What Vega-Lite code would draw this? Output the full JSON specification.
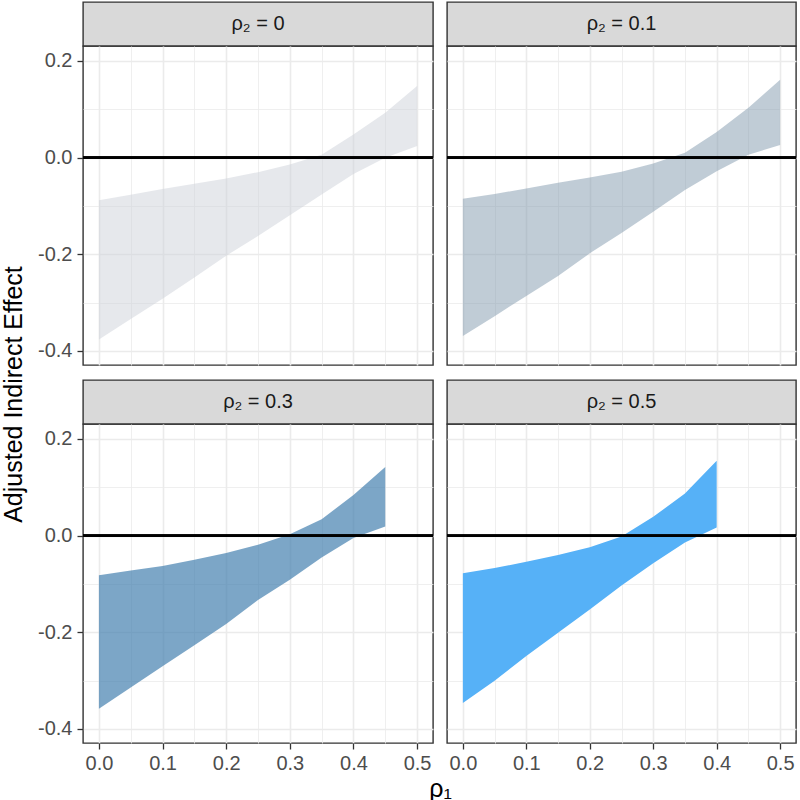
{
  "$schema": "https://vega.github.io/schema/vega-lite/v6.json",
  "padding": {"left": 0, "top": 1, "right": 3, "bottom": 0},
  "background": "white",
  "config": {
    "font": "Liberation Sans",
    "view": {"stroke": "#333333", "strokeWidth": 1.4},
    "axis": {
      "labelColor": "#4D4D4D",
      "labelFontSize": 20,
      "labelFont": "Liberation Sans",
      "titleFont": "Liberation Sans",
      "titleFontSize": 25,
      "titleFontWeight": "normal",
      "titleColor": "#000000",
      "tickColor": "#333333",
      "tickWidth": 1.3,
      "tickSize": 6,
      "domain": false,
      "gridColor": "#EBEBEB"
    }
  },
  "datasets": {
    "bands": [
      {"rho2": 0, "rho1": 0.0, "lower": -0.376, "upper": -0.088},
      {"rho2": 0, "rho1": 0.05, "lower": -0.334, "upper": -0.077},
      {"rho2": 0, "rho1": 0.1, "lower": -0.292, "upper": -0.065},
      {"rho2": 0, "rho1": 0.15, "lower": -0.248, "upper": -0.054},
      {"rho2": 0, "rho1": 0.2, "lower": -0.203, "upper": -0.043},
      {"rho2": 0, "rho1": 0.25, "lower": -0.162, "upper": -0.030},
      {"rho2": 0, "rho1": 0.3, "lower": -0.119, "upper": -0.014},
      {"rho2": 0, "rho1": 0.35, "lower": -0.076, "upper": 0.006},
      {"rho2": 0, "rho1": 0.4, "lower": -0.034, "upper": 0.048},
      {"rho2": 0, "rho1": 0.45, "lower": 0.0, "upper": 0.093},
      {"rho2": 0, "rho1": 0.5, "lower": 0.024, "upper": 0.148},
      {"rho2": 0.1, "rho1": 0.0, "lower": -0.369, "upper": -0.085},
      {"rho2": 0.1, "rho1": 0.05, "lower": -0.328, "upper": -0.075},
      {"rho2": 0.1, "rho1": 0.1, "lower": -0.286, "upper": -0.064},
      {"rho2": 0.1, "rho1": 0.15, "lower": -0.245, "upper": -0.052},
      {"rho2": 0.1, "rho1": 0.2, "lower": -0.198, "upper": -0.041},
      {"rho2": 0.1, "rho1": 0.25, "lower": -0.156, "upper": -0.029},
      {"rho2": 0.1, "rho1": 0.3, "lower": -0.112, "upper": -0.012},
      {"rho2": 0.1, "rho1": 0.35, "lower": -0.067, "upper": 0.010},
      {"rho2": 0.1, "rho1": 0.4, "lower": -0.028, "upper": 0.053},
      {"rho2": 0.1, "rho1": 0.45, "lower": 0.006, "upper": 0.103},
      {"rho2": 0.1, "rho1": 0.5, "lower": 0.026, "upper": 0.161},
      {"rho2": 0.3, "rho1": 0.0, "lower": -0.358, "upper": -0.082},
      {"rho2": 0.3, "rho1": 0.05, "lower": -0.314, "upper": -0.072},
      {"rho2": 0.3, "rho1": 0.1, "lower": -0.270, "upper": -0.063},
      {"rho2": 0.3, "rho1": 0.15, "lower": -0.227, "upper": -0.050},
      {"rho2": 0.3, "rho1": 0.2, "lower": -0.183, "upper": -0.036},
      {"rho2": 0.3, "rho1": 0.25, "lower": -0.133, "upper": -0.019},
      {"rho2": 0.3, "rho1": 0.3, "lower": -0.091, "upper": 0.003},
      {"rho2": 0.3, "rho1": 0.35, "lower": -0.045, "upper": 0.034},
      {"rho2": 0.3, "rho1": 0.4, "lower": -0.005, "upper": 0.084},
      {"rho2": 0.3, "rho1": 0.45, "lower": 0.019, "upper": 0.142},
      {"rho2": 0.5, "rho1": 0.0, "lower": -0.346, "upper": -0.078},
      {"rho2": 0.5, "rho1": 0.05, "lower": -0.300, "upper": -0.067},
      {"rho2": 0.5, "rho1": 0.1, "lower": -0.249, "upper": -0.054},
      {"rho2": 0.5, "rho1": 0.15, "lower": -0.201, "upper": -0.040},
      {"rho2": 0.5, "rho1": 0.2, "lower": -0.153, "upper": -0.024},
      {"rho2": 0.5, "rho1": 0.25, "lower": -0.103, "upper": -0.002},
      {"rho2": 0.5, "rho1": 0.3, "lower": -0.057, "upper": 0.039},
      {"rho2": 0.5, "rho1": 0.35, "lower": -0.014, "upper": 0.087},
      {"rho2": 0.5, "rho1": 0.4, "lower": 0.017, "upper": 0.155}
    ],
    "strips": [
      {"rho2": 0, "label": "ρ₂ = 0"},
      {"rho2": 0.1, "label": "ρ₂ = 0.1"},
      {"rho2": 0.3, "label": "ρ₂ = 0.3"},
      {"rho2": 0.5, "label": "ρ₂ = 0.5"}
    ]
  },
  "bounds": "flush",
  "columns": 2,
  "spacing": {"row": 0, "column": 14},
  "concat": [
    {
      "width": 350, "height": 44,
      "data": {"name": "strips"},
      "transform": [{"filter": "datum.rho2 == 0"}],
      "view": {"fill": "#D9D9D9", "stroke": "#333333", "strokeWidth": 1.4},
      "mark": {"type": "text", "fontSize": 20, "color": "#1A1A1A", "baseline": "middle", "align": "center"},
      "encoding": {"text": {"field": "label"}}
    },
    {
      "width": 349, "height": 44,
      "data": {"name": "strips"},
      "transform": [{"filter": "datum.rho2 == 0.1"}],
      "view": {"fill": "#D9D9D9", "stroke": "#333333", "strokeWidth": 1.4},
      "mark": {"type": "text", "fontSize": 20, "color": "#1A1A1A", "baseline": "middle", "align": "center"},
      "encoding": {"text": {"field": "label"}}
    },
    {
      "width": 350, "height": 319,
      "data": {"name": "bands"},
      "transform": [{"filter": "datum.rho2 == 0"}],
      "layer": [
        {
          "mark": {"type": "area", "color": "#CDD1D9", "opacity": 0.5},
          "encoding": {
            "x": {"field": "rho1", "type": "quantitative", "scale": {"domain": [-0.025, 0.525], "nice": false, "zero": false},
              "axis": {"values": [0, 0.05, 0.1, 0.15, 0.2, 0.25, 0.3, 0.35, 0.4, 0.45, 0.5], "labels": false, "ticks": false, "title": null,
                "gridWidth": {"condition": {"test": "round(datum.value*20) % 2 === 0", "value": 1.6}, "value": 0.8}}},
            "y": {"field": "lower", "type": "quantitative", "scale": {"domain": [-0.429, 0.231], "nice": false, "zero": false},
              "axis": {"values": [-0.4, -0.3, -0.2, -0.1, 0, 0.1, 0.2], "title": null,
                "labelExpr": "round(datum.value*10) % 2 === 0 ? (datum.value < -0.001 ? '-' : '') + format(abs(datum.value), '.1f') : ''",
                "labelPadding": 5,
                "tickColor": {"condition": {"test": "round(datum.value*10) % 2 === 0", "value": "#333333"}, "value": "transparent"},
                "gridWidth": {"condition": {"test": "round(datum.value*10) % 2 === 0", "value": 1.6}, "value": 0.8}}},
            "y2": {"field": "upper"}
          }
        },
        {
          "mark": {"type": "rule", "color": "#000000", "strokeWidth": 1.6},
          "encoding": {"y": {"datum": 0}}
        }
      ]
    },
    {
      "width": 349, "height": 319,
      "data": {"name": "bands"},
      "transform": [{"filter": "datum.rho2 == 0.1"}],
      "layer": [
        {
          "mark": {"type": "area", "color": "#8199AD", "opacity": 0.5},
          "encoding": {
            "x": {"field": "rho1", "type": "quantitative", "scale": {"domain": [-0.025, 0.525], "nice": false, "zero": false},
              "axis": {"values": [0, 0.05, 0.1, 0.15, 0.2, 0.25, 0.3, 0.35, 0.4, 0.45, 0.5], "labels": false, "ticks": false, "title": null,
                "gridWidth": {"condition": {"test": "round(datum.value*20) % 2 === 0", "value": 1.6}, "value": 0.8}}},
            "y": {"field": "lower", "type": "quantitative", "scale": {"domain": [-0.429, 0.231], "nice": false, "zero": false},
              "axis": {"values": [-0.4, -0.3, -0.2, -0.1, 0, 0.1, 0.2], "labels": false, "ticks": false, "title": null,
                "gridWidth": {"condition": {"test": "round(datum.value*10) % 2 === 0", "value": 1.6}, "value": 0.8}}},
            "y2": {"field": "upper"}
          }
        },
        {
          "mark": {"type": "rule", "color": "#000000", "strokeWidth": 1.6},
          "encoding": {"y": {"datum": 0}}
        }
      ]
    },
    {
      "width": 350, "height": 15,
      "data": {"name": "strips"},
      "transform": [{"filter": "false"}],
      "view": {"stroke": null},
      "mark": {"type": "text"},
      "encoding": {"text": {"field": "label"}}
    },
    {
      "width": 349, "height": 15,
      "data": {"name": "strips"},
      "transform": [{"filter": "false"}],
      "view": {"stroke": null},
      "mark": {"type": "text"},
      "encoding": {"text": {"field": "label"}}
    },
    {
      "width": 350, "height": 44,
      "data": {"name": "strips"},
      "transform": [{"filter": "datum.rho2 == 0.3"}],
      "view": {"fill": "#D9D9D9", "stroke": "#333333", "strokeWidth": 1.4},
      "mark": {"type": "text", "fontSize": 20, "color": "#1A1A1A", "baseline": "middle", "align": "center"},
      "encoding": {"text": {"field": "label"}}
    },
    {
      "width": 349, "height": 44,
      "data": {"name": "strips"},
      "transform": [{"filter": "datum.rho2 == 0.5"}],
      "view": {"fill": "#D9D9D9", "stroke": "#333333", "strokeWidth": 1.4},
      "mark": {"type": "text", "fontSize": 20, "color": "#1A1A1A", "baseline": "middle", "align": "center"},
      "encoding": {"text": {"field": "label"}}
    },
    {
      "width": 350, "height": 319,
      "data": {"name": "bands"},
      "transform": [{"filter": "datum.rho2 == 0.3"}],
      "layer": [
        {
          "mark": {"type": "area", "color": "#4580AF", "opacity": 0.7},
          "encoding": {
            "x": {"field": "rho1", "type": "quantitative", "scale": {"domain": [-0.025, 0.525], "nice": false, "zero": false},
              "axis": {"values": [0, 0.05, 0.1, 0.15, 0.2, 0.25, 0.3, 0.35, 0.4, 0.45, 0.5],
                "title": "ρ₁", "titleX": 357, "titlePadding": 3,
                "labelExpr": "round(datum.value*20) % 2 === 0 ? format(datum.value, '.1f') : ''",
                "labelPadding": 4,
                "tickColor": {"condition": {"test": "round(datum.value*20) % 2 === 0", "value": "#333333"}, "value": "transparent"},
                "gridWidth": {"condition": {"test": "round(datum.value*20) % 2 === 0", "value": 1.6}, "value": 0.8}}},
            "y": {"field": "lower", "type": "quantitative", "scale": {"domain": [-0.429, 0.231], "nice": false, "zero": false},
              "axis": {"values": [-0.4, -0.3, -0.2, -0.1, 0, 0.1, 0.2],
                "title": "Adjusted Indirect Effect", "titleY": -30, "titlePadding": 11,
                "labelExpr": "round(datum.value*10) % 2 === 0 ? (datum.value < -0.001 ? '-' : '') + format(abs(datum.value), '.1f') : ''",
                "labelPadding": 5,
                "tickColor": {"condition": {"test": "round(datum.value*10) % 2 === 0", "value": "#333333"}, "value": "transparent"},
                "gridWidth": {"condition": {"test": "round(datum.value*10) % 2 === 0", "value": 1.6}, "value": 0.8}}},
            "y2": {"field": "upper"}
          }
        },
        {
          "mark": {"type": "rule", "color": "#000000", "strokeWidth": 1.6},
          "encoding": {"y": {"datum": 0}}
        }
      ]
    },
    {
      "width": 349, "height": 319,
      "data": {"name": "bands"},
      "transform": [{"filter": "datum.rho2 == 0.5"}],
      "layer": [
        {
          "mark": {"type": "area", "color": "#56B1F7", "opacity": 1},
          "encoding": {
            "x": {"field": "rho1", "type": "quantitative", "scale": {"domain": [-0.025, 0.525], "nice": false, "zero": false},
              "axis": {"values": [0, 0.05, 0.1, 0.15, 0.2, 0.25, 0.3, 0.35, 0.4, 0.45, 0.5], "title": null,
                "labelExpr": "round(datum.value*20) % 2 === 0 ? format(datum.value, '.1f') : ''",
                "labelPadding": 4,
                "tickColor": {"condition": {"test": "round(datum.value*20) % 2 === 0", "value": "#333333"}, "value": "transparent"},
                "gridWidth": {"condition": {"test": "round(datum.value*20) % 2 === 0", "value": 1.6}, "value": 0.8}}},
            "y": {"field": "lower", "type": "quantitative", "scale": {"domain": [-0.429, 0.231], "nice": false, "zero": false},
              "axis": {"values": [-0.4, -0.3, -0.2, -0.1, 0, 0.1, 0.2], "labels": false, "ticks": false, "title": null,
                "gridWidth": {"condition": {"test": "round(datum.value*10) % 2 === 0", "value": 1.6}, "value": 0.8}}},
            "y2": {"field": "upper"}
          }
        },
        {
          "mark": {"type": "rule", "color": "#000000", "strokeWidth": 1.6},
          "encoding": {"y": {"datum": 0}}
        }
      ]
    }
  ]
}
